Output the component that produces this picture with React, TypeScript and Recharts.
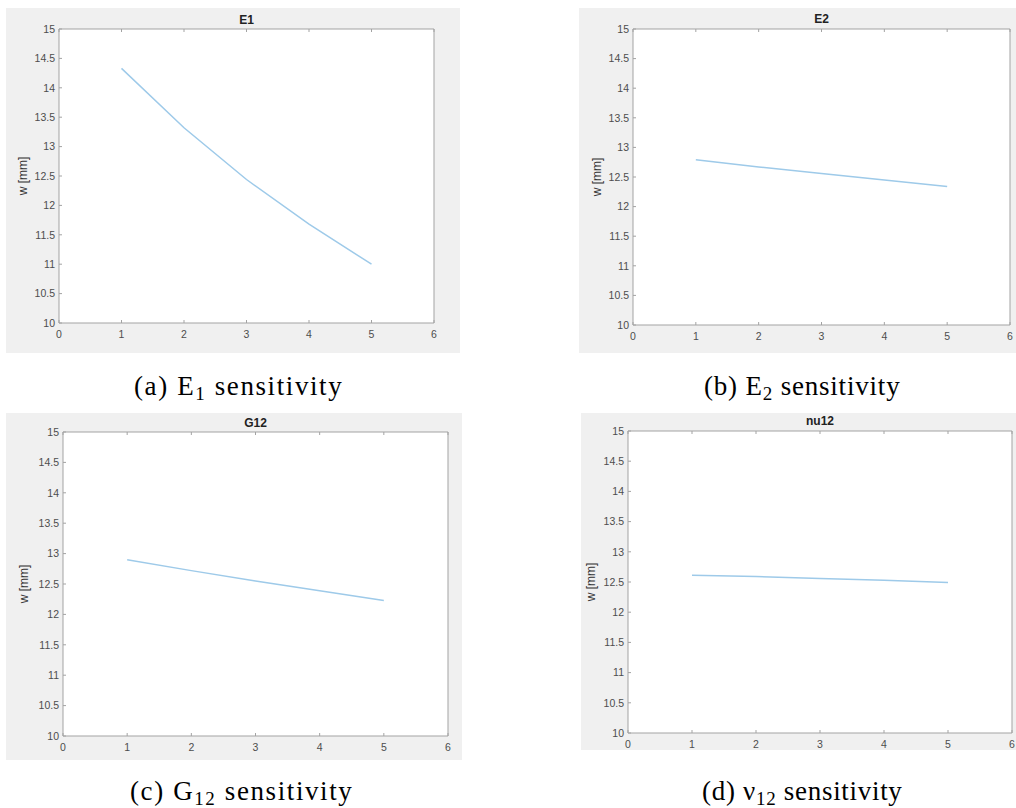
import React from 'react'
import { LineChart, Line, XAxis, YAxis, CartesianGrid } from 'recharts'

// sweep positions (1..5) and mid-span deflection w [mm]
const xValues = [1, 2, 3, 4, 5]
const e1Values = [14.33, 13.32, 12.44, 11.68, 11.0]
const e2Values = [12.79, 12.67, 12.56, 12.45, 12.34]
const g12Values = [12.9, 12.72, 12.55, 12.39, 12.23]
const nu12Values = [12.61, 12.59, 12.56, 12.53, 12.49]

const xTicks = [0, 1, 2, 3, 4, 5, 6]
const yTicks = [10, 10.5, 11, 11.5, 12, 12.5, 13, 13.5, 14, 14.5, 15]

const AXIS_COLOR = '#a3a3a3'
const TICK_COLOR = '#4d4d4d'
const LINE_COLOR = '#9ecae9'
const SANS = '"Liberation Sans", Arial, sans-serif'
const SERIF = '"Liberation Serif", "Times New Roman", serif'

type Rect = { left: number; top: number; right: number; bottom: number }

const tickStyle = { fill: TICK_COLOR, fontSize: 10.5, fontFamily: SANS }

function SensitivityPlot({
  title,
  values,
  box,
  plot,
  titleY,
  yLabelX,
}: {
  title: string
  values: number[]
  box: Rect
  plot: Rect
  titleY: number
  yLabelX: number
}) {
  const data = xValues.map((x, i) => ({ x, w: values[i] }))
  const width = box.right - box.left
  const height = box.bottom - box.top

  return (
    <div
      style={{
        position: 'absolute',
        left: box.left,
        top: box.top,
        width,
        height,
        background: '#f0f0f0',
      }}
    >
      <div
        style={{
          position: 'absolute',
          zIndex: 1,
          left: plot.left - box.left,
          width: plot.right - plot.left,
          top: titleY - box.top - 7,
          height: 14,
          lineHeight: '14px',
          textAlign: 'center',
          fontFamily: SANS,
          fontWeight: 'bold',
          fontSize: 12,
          color: '#222',
        }}
      >
        {title}
      </div>
      <div style={{ position: 'absolute', left: 0, top: 0 }}>
        <LineChart
          width={width}
          height={height}
          data={data}
          margin={{ top: 0, right: 0, bottom: 0, left: 0 }}
        >
          <CartesianGrid
            xAxisId='bottom'
            yAxisId='left'
            horizontal={false}
            vertical={false}
            fill='#fff'
          />
          <XAxis
            xAxisId='bottom'
            dataKey='x'
            type='number'
            domain={[0, 6]}
            ticks={xTicks}
            height={box.bottom - plot.bottom}
            stroke={AXIS_COLOR}
            tickSize={-3}
            tickMargin={11}
            tick={tickStyle}
          />
          <XAxis
            xAxisId='top'
            orientation='top'
            dataKey='x'
            type='number'
            domain={[0, 6]}
            ticks={xTicks}
            height={plot.top - box.top}
            stroke={AXIS_COLOR}
            tickSize={-3}
            tickFormatter={() => ''}
          />
          <YAxis
            yAxisId='left'
            type='number'
            domain={[10, 15]}
            ticks={yTicks}
            width={plot.left - box.left}
            stroke={AXIS_COLOR}
            tickSize={-3}
            tickMargin={7}
            tick={tickStyle}
            label={{
              value: 'w [mm]',
              angle: -90,
              position: 'insideLeft',
              offset: yLabelX - box.left,
              style: {
                textAnchor: 'middle',
                fill: '#333',
                fontSize: 12,
                fontFamily: SANS,
              },
            }}
          />
          <YAxis
            yAxisId='right'
            orientation='right'
            type='number'
            domain={[10, 15]}
            ticks={yTicks}
            width={box.right - plot.right}
            stroke={AXIS_COLOR}
            tickSize={-3}
            tickFormatter={() => ''}
          />
          <Line
            xAxisId='bottom'
            yAxisId='left'
            type='linear'
            dataKey='w'
            stroke={LINE_COLOR}
            strokeWidth={1.5}
            dot={false}
            isAnimationActive={false}
          />
        </LineChart>
      </div>
    </div>
  )
}

function Caption({
  left,
  top,
  label,
  symbol,
  sub,
  spacing,
}: {
  left: number
  top: number
  label: string
  symbol: string
  sub: string
  spacing: number
}) {
  return (
    <div
      style={{
        position: 'absolute',
        left,
        top,
        whiteSpace: 'nowrap',
        fontFamily: SERIF,
        fontSize: 27,
        lineHeight: '30px',
        letterSpacing: spacing,
        color: '#000',
      }}
    >
      {label} {symbol}
      <span style={{ fontSize: 19, position: 'relative', top: 5 }}>{sub}</span>{' '}
      sensitivity
    </div>
  )
}

export default function App() {
  return (
    <div
      style={{
        position: 'absolute',
        left: 0,
        top: 0,
        width: 1016,
        height: 808,
        overflow: 'hidden',
        background: '#fff',
      }}
    >
      <SensitivityPlot
        title='E1'
        values={e1Values}
        box={{ left: 6, top: 8, right: 460, bottom: 353 }}
        plot={{ left: 59, top: 29, right: 434, bottom: 323 }}
        titleY={20}
        yLabelX={23}
      />
      <SensitivityPlot
        title='E2'
        values={e2Values}
        box={{ left: 579, top: 8, right: 1030, bottom: 353 }}
        plot={{ left: 633, top: 29, right: 1010, bottom: 325 }}
        titleY={19}
        yLabelX={597}
      />
      <SensitivityPlot
        title='G12'
        values={g12Values}
        box={{ left: 6, top: 413, right: 462, bottom: 760 }}
        plot={{ left: 63, top: 432, right: 448, bottom: 736 }}
        titleY={423}
        yLabelX={24}
      />
      <SensitivityPlot
        title='nu12'
        values={nu12Values}
        box={{ left: 581, top: 413, right: 1030, bottom: 750 }}
        plot={{ left: 628, top: 431, right: 1012, bottom: 733 }}
        titleY={421}
        yLabelX={591}
      />
      <Caption left={134} top={371} label='(a)' symbol='E' sub='1' spacing={1.6} />
      <Caption left={704} top={371} label='(b)' symbol='E' sub='2' spacing={0.8} />
      <Caption left={130} top={776} label='(c)' symbol='G' sub='12' spacing={1.6} />
      <Caption left={702} top={776} label='(d)' symbol='ν' sub='12' spacing={0.7} />
    </div>
  )
}
